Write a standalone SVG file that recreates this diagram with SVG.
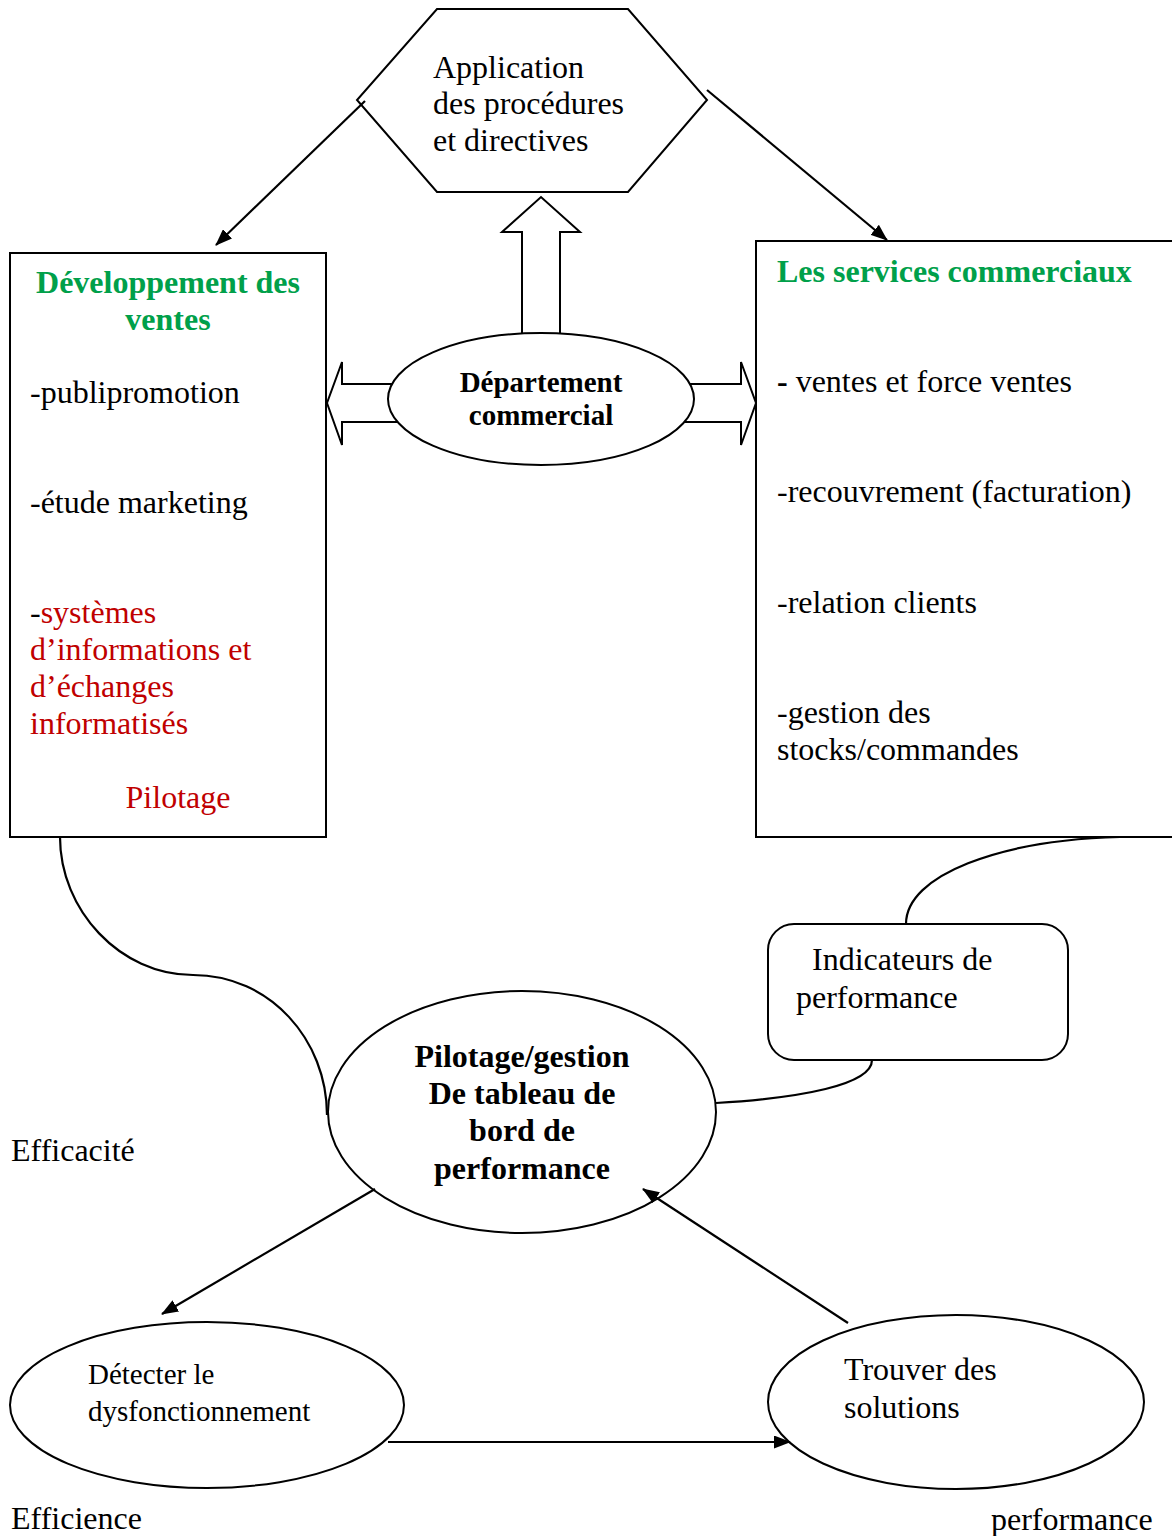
<svg xmlns="http://www.w3.org/2000/svg" width="1172" height="1536" viewBox="0 0 1172 1536">
<style>
.sh{fill:#fff;stroke:#000;stroke-width:2}
.ln{fill:none;stroke:#000;stroke-width:2.2}
.t{font-family:"Liberation Serif","Times New Roman",serif;font-size:32px;fill:#000}
.b{font-weight:bold}
.g{fill:#00a04a}
.r{fill:#c00000}
.c{text-anchor:middle}
</style>
<defs>
<marker id="ah" viewBox="0 0 17 13" refX="16" refY="6.5" markerWidth="17" markerHeight="13" markerUnits="userSpaceOnUse" orient="auto">
<path d="M0,0 L17,6.5 L0,13 z" fill="#000"/>
</marker>
</defs>
<rect width="1172" height="1536" fill="#fff"/>

<g id="hexagon">
<polygon class="sh" points="437,9 628,9 707,100 628,192 437,192 357,100"/>
<text class="t" x="433" y="78">Application</text>
<text class="t" x="433" y="114">des procédures</text>
<text class="t" x="433" y="151">et directives</text>
</g>

<g id="developpement">
<rect class="sh" x="10" y="253" width="316" height="584"/>
<text class="t b g c" x="168" y="293">Développement des</text>
<text class="t b g c" x="168" y="330">ventes</text>
<text class="t" x="30" y="403">-publipromotion</text>
<text class="t" x="30" y="513">-étude marketing</text>
<text class="t" x="30" y="623">-<tspan class="r">systèmes</tspan></text>
<text class="t r" x="30" y="660">d’informations et</text>
<text class="t r" x="30" y="697">d’échanges</text>
<text class="t r" x="30" y="734">informatisés</text>
<text class="t r c" x="178" y="808">Pilotage</text>
</g>

<g id="services">
<rect class="sh" x="756" y="241" width="430" height="596"/>
<text class="t b g" x="777" y="282">Les services commerciaux</text>
<text class="t" x="777" y="392"><tspan class="b">-</tspan> ventes et force ventes</text>
<text class="t" x="777" y="502">-recouvrement (facturation)</text>
<text class="t" x="777" y="613">-relation clients</text>
<text class="t" x="777" y="723">-gestion des</text>
<text class="t" x="777" y="760">stocks/commandes</text>
</g>

<g id="block-arrows">
<path class="sh" d="M522,345 L522,232 L502,232 L541,197 L580,232 L560,232 L560,345"/>
<path class="sh" d="M400,384 L342,384 L342,362 L327,403 L342,445 L342,422 L400,422"/>
<path class="sh" d="M682,384 L741,384 L741,362 L756,403 L741,445 L741,422 L682,422"/>
</g>

<g id="departement">
<ellipse class="sh" cx="541" cy="399" rx="153" ry="66"/>
<text class="t b c" x="541" y="392" style="font-size:29px">Département</text>
<text class="t b c" x="541" y="425" style="font-size:29px">commercial</text>
</g>

<g id="indicateurs">
<rect class="sh" x="768" y="924" width="300" height="136" rx="26" ry="26"/>
<text class="t" x="812" y="970">Indicateurs de</text>
<text class="t" x="796" y="1008">performance</text>
</g>

<g id="pilotage">
<ellipse class="sh" cx="522" cy="1112" rx="194" ry="121"/>
<text class="t b c" x="522" y="1067">Pilotage/gestion</text>
<text class="t b c" x="522" y="1104">De tableau de</text>
<text class="t b c" x="522" y="1141">bord de</text>
<text class="t b c" x="522" y="1179">performance</text>
</g>

<g id="detecter">
<ellipse class="sh" cx="207" cy="1405" rx="197" ry="83"/>
<text class="t" x="88" y="1384" style="font-size:29px">Détecter le</text>
<text class="t" x="88" y="1421" style="font-size:29px">dysfonctionnement</text>
</g>

<g id="trouver">
<ellipse class="sh" cx="956" cy="1402" rx="188" ry="87"/>
<text class="t" x="844" y="1380">Trouver des</text>
<text class="t" x="844" y="1418">solutions</text>
</g>

<g id="labels">
<text class="t" x="11" y="1161">Efficacité</text>
<text class="t" x="11" y="1529">Efficience</text>
<text class="t" x="991" y="1530">performance</text>
</g>

<g id="connectors">
<line class="ln" x1="365" y1="101" x2="216" y2="245" marker-end="url(#ah)"/>
<line class="ln" x1="707" y1="90" x2="887" y2="240" marker-end="url(#ah)"/>
<path class="ln" d="M60,837 C60,910 120,975 193,975 C270,975 327,1040 327,1115"/>
<path class="ln" d="M906,924 C906,875 1000,840 1120,837"/>
<path class="ln" d="M872,1060 C872,1085 800,1098 716,1103"/>
<line class="ln" x1="375" y1="1189" x2="162" y2="1314" marker-end="url(#ah)"/>
<line class="ln" x1="848" y1="1323" x2="643" y2="1189" marker-end="url(#ah)"/>
<line class="ln" x1="388" y1="1442" x2="790" y2="1442" marker-end="url(#ah)"/>
</g>
</svg>
